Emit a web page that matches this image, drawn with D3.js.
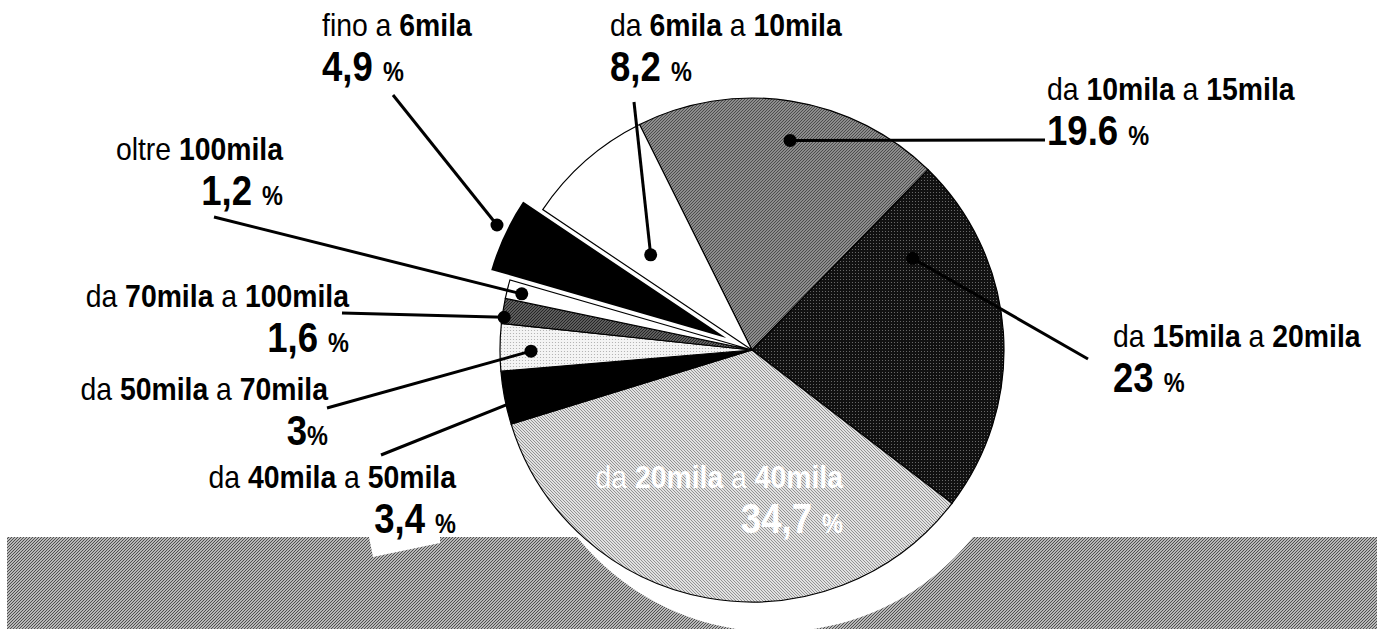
<!DOCTYPE html>
<html>
<head>
<meta charset="utf-8">
<script src="https://cdn.jsdelivr.net/npm/d3@7"></script>
<style>
  body { margin: 0; background: #fff; }
  svg { display: block; }
  text { font-family: "Liberation Sans", Arial, sans-serif; }
</style>
</head>
<body>
<div id="chart"></div>
<script>
// income brackets, clockwise from the top
const categories = [
  "da 10mila a 15mila", "da 15mila a 20mila", "da 20mila a 40mila",
  "da 40mila a 50mila", "da 50mila a 70mila", "da 70mila a 100mila",
  "oltre 100mila", "fino a 6mila", "da 6mila a 10mila"
];
const values = [19.6, 23, 34.7, 3.4, 3, 1.6, 1.2, 4.9, 8.2];
const valueLabels = ["19.6", "23", "34,7", "3,4", "3", "1,6", "1,2", "4,9", "8,2"];
const pctSep = [" ", " ", " ", " ", "", " ", " ", " ", " "];

const width = 1377, height = 629;
const cx = 752, cy = 350, radius = 252;
const startDeg = -26.5;
const explodeName = "fino a 6mila", explodeBy = 22;
const squeezeName = 0.915, squeezeValue = 0.87; // condensed type

// fills per slice (pattern ids) and label placement
const fills = ["p-mid", "p-dark", "p-light", "#000", "p-dots", "p-dgray", "#fff", "#000", "#fff"];
const layout = [
  {x: 1047, y: 100, anchor: "start", line: [1045, 140], dot: [10.3, 213]},
  {x: 1113, y: 347, anchor: "start", line: [1088, 359], dot: [60.3, 185]},
  {x: 843, y: 488, anchor: "end", white: true},
  {x: 456, y: 488, anchor: "end", line: [381, 455], dot: [259, 215]},
  {x: 328, y: 400, anchor: "end", line: [327, 408], dot: [269.7, 221]},
  {x: 349, y: 307, anchor: "end", line: [342, 313], dot: [277.5, 250]},
  {x: 283, y: 160, anchor: "end", line: [214, 217], dot: [283.7, 237]},
  {x: 322, y: 36, anchor: "start", line: [393, 95], dot: [296.2, 262]},
  {x: 610, y: 36, anchor: "start", line: [634, 102], dot: [313.2, 139]}
];

const svg = d3.select("#chart").append("svg")
    .attr("width", width)
    .attr("height", height)
    .attr("viewBox", [0, 0, width, height]);

// hatch patterns imitating the print screens
const defs = svg.append("defs");
function hatch(id, bg, fg, size, sw, dir) {
  const p = defs.append("pattern").attr("id", id)
      .attr("patternUnits", "userSpaceOnUse")
      .attr("width", size).attr("height", size);
  p.append("rect").attr("width", size).attr("height", size).attr("fill", bg);
  const s = size;
  const d = dir > 0
    ? `M-1,1L1,-1M0,${s}L${s},0M${s - 1},${s + 1}L${s + 1},${s - 1}`
    : `M-1,${s - 1}L1,${s + 1}M0,0L${s},${s}M${s - 1},-1L${s + 1},1`;
  p.append("path").attr("d", d).attr("stroke", fg).attr("stroke-width", sw);
}
function dots(id, bg, fg, size, r) {
  const p = defs.append("pattern").attr("id", id)
      .attr("patternUnits", "userSpaceOnUse")
      .attr("width", size).attr("height", size);
  p.append("rect").attr("width", size).attr("height", size).attr("fill", bg);
  p.append("circle").attr("cx", size / 2).attr("cy", size / 2).attr("r", r).attr("fill", fg);
}
hatch("p-band", "#b8b8b8", "#505050", 3, 1.0, 1);
hatch("p-mid", "#a8a8a8", "#484848", 3, 1.1, 1);
hatch("p-light", "#e2e2e2", "#8a8a8a", 3, 0.9, -1);
hatch("p-dgray", "#777", "#222", 3, 1.2, 1);
dots("p-dark", "#111", "#777", 3, 0.55);
dots("p-dots", "#f4f4f4", "#aaa", 3, 0.6);

const fillOf = f => f.startsWith("p-") ? `url(#${f})` : f;

// grey ground band with the white shadow of the pie cut out of it
svg.append("rect")
    .attr("x", 7).attr("y", 537)
    .attr("width", width - 7).attr("height", height - 537)
    .attr("fill", "url(#p-band)");
svg.append("circle")
    .attr("cx", cx + 23).attr("cy", cy + 28).attr("r", radius + 2)
    .attr("fill", "#fff");
// white tab under the 3,4 % label
const tab = layout[3];
svg.append("path")
    .attr("d", d3.line()([[tab.x - 87, 537], [tab.x - 83, 557], [tab.x - 16, 543], [tab.x - 16, 537]]))
    .attr("fill", "#fff");

const data = categories.map((name, i) => ({name, value: values[i], i}));
const pie = d3.pie().sort(null).value(d => d.value)
    .startAngle(startDeg * Math.PI / 180)
    .endAngle(startDeg * Math.PI / 180 + 2 * Math.PI);
const arcs = pie(data);
const arc = d3.arc().innerRadius(0).outerRadius(radius);

const offsetOf = a => {
  if (a.data.name !== explodeName) return [0, 0];
  return d3.pointRadial((a.startAngle + a.endAngle) / 2, explodeBy);
};

const g = svg.append("g").attr("transform", `translate(${cx},${cy})`);
g.selectAll("path.slice")
  .data(arcs)
  .join("path")
    .attr("class", "slice")
    .attr("transform", a => `translate(${offsetOf(a)})`)
    .attr("d", arc)
    .attr("fill", a => fillOf(fills[a.index]))
    .attr("stroke", a => a.data.name === explodeName ? "#fff" : "#000")
    .attr("stroke-width", a => a.data.name === explodeName ? 2 : 1.2)
    .attr("stroke-linejoin", "miter");

// leader lines and dots
const leaders = arcs.filter(a => layout[a.index].line);
const dotPos = a => {
  const L = layout[a.index];
  const p = d3.pointRadial(L.dot[0] * Math.PI / 180, L.dot[1]);
  const o = offsetOf(a);
  return [cx + p[0] + o[0], cy + p[1] + o[1]];
};
svg.selectAll("line.leader")
  .data(leaders)
  .join("line")
    .attr("class", "leader")
    .attr("x1", a => layout[a.index].line[0])
    .attr("y1", a => layout[a.index].line[1])
    .attr("x2", a => dotPos(a)[0])
    .attr("y2", a => dotPos(a)[1])
    .attr("stroke", "#000")
    .attr("stroke-width", 3);
svg.selectAll("circle.dot")
  .data(leaders)
  .join("circle")
    .attr("class", "dot")
    .attr("cx", a => dotPos(a)[0])
    .attr("cy", a => dotPos(a)[1])
    .attr("r", 6.5)
    .attr("fill", "#000");

// labels: numbers in the bracket are bold
const labels = svg.selectAll("g.label")
  .data(arcs)
  .join("g")
    .attr("class", "label")
    .attr("transform", a => `translate(${layout[a.index].x},${layout[a.index].y})`)
    .attr("fill", a => layout[a.index].white ? "#fff" : "#000")
    .attr("text-anchor", a => layout[a.index].anchor);

labels.append("text")
    .attr("transform", `scale(${squeezeName},1)`)
    .attr("font-size", 31)
    .each(function(a) {
      const t = d3.select(this);
      a.data.name.split(" ").forEach((w, k, arr) => {
        t.append("tspan")
          .attr("font-weight", /\d/.test(w) ? "bold" : "normal")
          .text(w + (k < arr.length - 1 ? " " : ""));
      });
    });

labels.append("text")
    .attr("transform", `translate(0,45) scale(${squeezeValue},1)`)
    .attr("font-weight", "bold")
    .each(function(a) {
      const t = d3.select(this);
      t.append("tspan").attr("font-size", 42).text(valueLabels[a.index] + pctSep[a.index]);
      t.append("tspan").attr("font-size", 27).text("%");
    });
</script>
</body>
</html>
